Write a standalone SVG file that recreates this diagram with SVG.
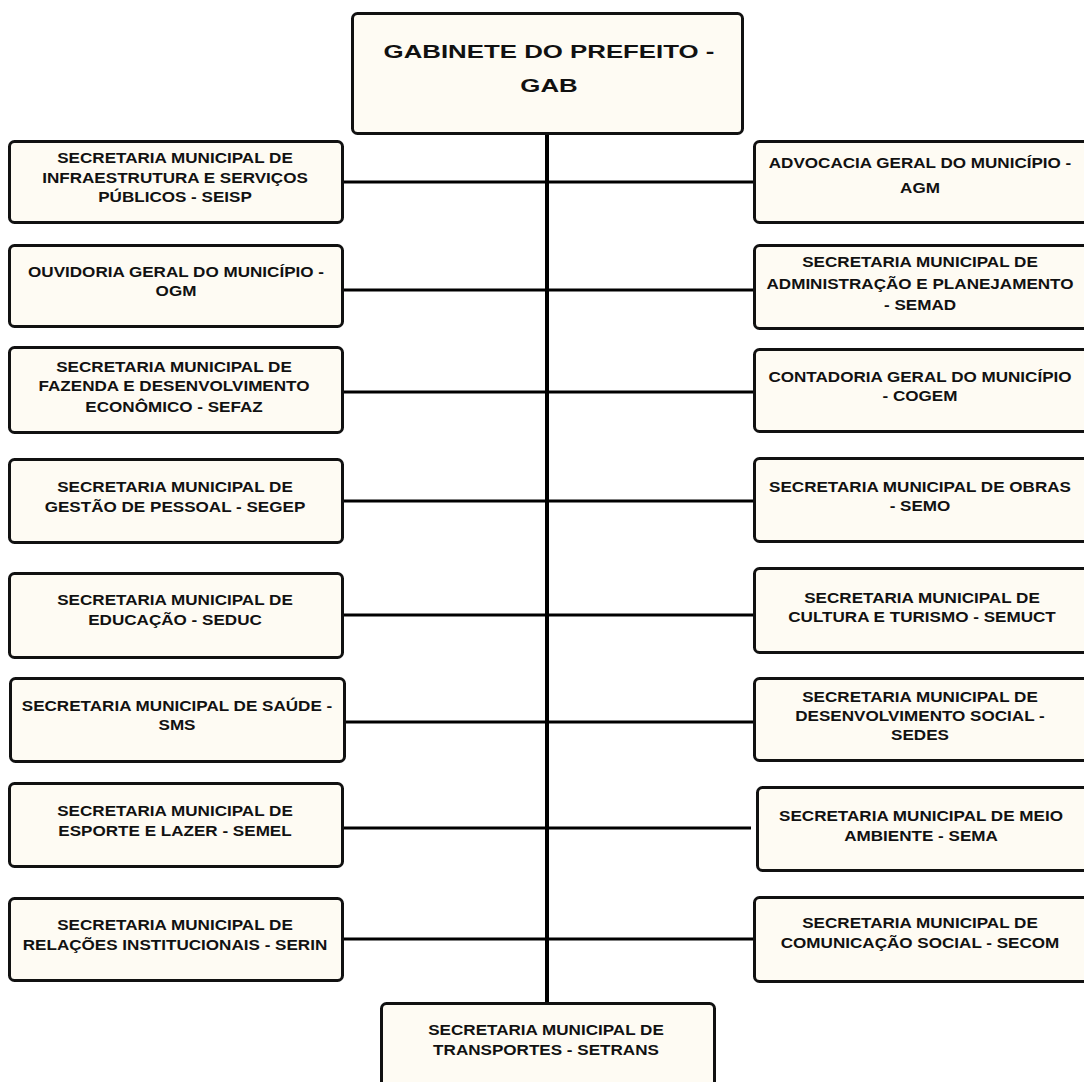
<svg xmlns="http://www.w3.org/2000/svg" width="1084" height="1082" viewBox="0 0 1084 1082">
<style>
.box{fill:#FEFBF3;stroke:#111;stroke-width:3}
.t{font-family:"Liberation Sans",Arial,sans-serif;font-weight:bold;font-size:14px;fill:#111;text-anchor:middle}
.title{font-family:"Liberation Sans",Arial,sans-serif;font-weight:bold;font-size:19px;fill:#111;text-anchor:middle}
.c{stroke:#000;stroke-width:3;fill:none}
.v{stroke:#000;stroke-width:4;fill:none}
</style>
<rect width="1084" height="1082" fill="#fff"/>
<g id="connectors">
<line class="v" x1="547" y1="134" x2="547" y2="1004"/>
<line class="c" x1="343" y1="182" x2="547" y2="182"/>
<line class="c" x1="547" y1="182" x2="755" y2="182"/>
<line class="c" x1="343" y1="290" x2="547" y2="290"/>
<line class="c" x1="547" y1="290" x2="755" y2="290"/>
<line class="c" x1="343" y1="392" x2="547" y2="392"/>
<line class="c" x1="547" y1="392" x2="755" y2="392"/>
<line class="c" x1="343" y1="501" x2="547" y2="501"/>
<line class="c" x1="547" y1="501" x2="755" y2="501"/>
<line class="c" x1="343" y1="615" x2="547" y2="615"/>
<line class="c" x1="547" y1="615" x2="755" y2="615"/>
<line class="c" x1="344" y1="722" x2="547" y2="722"/>
<line class="c" x1="547" y1="722" x2="755" y2="722"/>
<line class="c" x1="343" y1="828" x2="547" y2="828"/>
<line class="c" x1="547" y1="828" x2="751" y2="828"/>
<line class="c" x1="343" y1="939" x2="547" y2="939"/>
<line class="c" x1="547" y1="939" x2="755" y2="939"/>
</g>
<g id="gab">
<rect class="box" x="352.5" y="13.5" width="390" height="120" rx="5"/>
<text class="title" transform="translate(549,0) scale(1.36,1)"><tspan x="0" y="58">GABINETE DO PREFEITO -</tspan><tspan x="0" y="92">GAB</tspan></text>
</g>
<g id="seisp">
<rect class="box" x="9.5" y="141.5" width="333" height="81" rx="5"/>
<text class="t" transform="translate(175,0) scale(1.22,1)"><tspan x="0" y="163">SECRETARIA MUNICIPAL DE</tspan><tspan x="0" y="183">INFRAESTRUTURA E SERVIÇOS</tspan><tspan x="0" y="202">PÚBLICOS - SEISP</tspan></text>
</g>
<g id="ogm">
<rect class="box" x="9.5" y="245.5" width="333" height="81" rx="5"/>
<text class="t" transform="translate(176,0) scale(1.22,1)"><tspan x="0" y="277">OUVIDORIA GERAL DO MUNICÍPIO -</tspan><tspan x="0" y="296">OGM</tspan></text>
</g>
<g id="sefaz">
<rect class="box" x="9.5" y="347.5" width="333" height="85" rx="5"/>
<text class="t" transform="translate(174,0) scale(1.22,1)"><tspan x="0" y="372">SECRETARIA MUNICIPAL DE</tspan><tspan x="0" y="391">FAZENDA E DESENVOLVIMENTO</tspan><tspan x="0" y="412">ECONÔMICO - SEFAZ</tspan></text>
</g>
<g id="segep">
<rect class="box" x="9.5" y="459.5" width="333" height="83" rx="5"/>
<text class="t" transform="translate(175,0) scale(1.22,1)"><tspan x="0" y="492">SECRETARIA MUNICIPAL DE</tspan><tspan x="0" y="512.5">GESTÃO DE PESSOAL - SEGEP</tspan></text>
</g>
<g id="seduc">
<rect class="box" x="9.5" y="573.5" width="333" height="84" rx="5"/>
<text class="t" transform="translate(175,0) scale(1.22,1)"><tspan x="0" y="605">SECRETARIA MUNICIPAL DE</tspan><tspan x="0" y="625">EDUCAÇÃO - SEDUC</tspan></text>
</g>
<g id="sms">
<rect class="box" x="10.5" y="678.5" width="334" height="83" rx="5"/>
<text class="t" transform="translate(177,0) scale(1.22,1)"><tspan x="0" y="711">SECRETARIA MUNICIPAL DE SAÚDE -</tspan><tspan x="0" y="730">SMS</tspan></text>
</g>
<g id="semel">
<rect class="box" x="9.5" y="783.5" width="333" height="83" rx="5"/>
<text class="t" transform="translate(175,0) scale(1.22,1)"><tspan x="0" y="816.5">SECRETARIA MUNICIPAL DE</tspan><tspan x="0" y="836.5">ESPORTE E LAZER - SEMEL</tspan></text>
</g>
<g id="serin">
<rect class="box" x="9.5" y="898.5" width="333" height="82" rx="5"/>
<text class="t" transform="translate(175,0) scale(1.22,1)"><tspan x="0" y="930">SECRETARIA MUNICIPAL DE</tspan><tspan x="0" y="950">RELAÇÕES INSTITUCIONAIS - SERIN</tspan></text>
</g>
<g id="agm">
<rect class="box" x="754.5" y="141.5" width="340" height="81" rx="5"/>
<text class="t" transform="translate(920,0) scale(1.22,1)"><tspan x="0" y="168">ADVOCACIA GERAL DO MUNICÍPIO -</tspan><tspan x="0" y="193">AGM</tspan></text>
</g>
<g id="semad">
<rect class="box" x="754.5" y="245.5" width="340" height="83" rx="5"/>
<text class="t" transform="translate(920,0) scale(1.22,1)"><tspan x="0" y="267">SECRETARIA MUNICIPAL DE</tspan><tspan x="0" y="289">ADMINISTRAÇÃO E PLANEJAMENTO</tspan><tspan x="0" y="310">- SEMAD</tspan></text>
</g>
<g id="cogem">
<rect class="box" x="754.5" y="349.5" width="340" height="82" rx="5"/>
<text class="t" transform="translate(920,0) scale(1.22,1)"><tspan x="0" y="382.5">CONTADORIA GERAL DO MUNICÍPIO</tspan><tspan x="0" y="401.5">- COGEM</tspan></text>
</g>
<g id="semo">
<rect class="box" x="754.5" y="458.5" width="340" height="83" rx="5"/>
<text class="t" transform="translate(920,0) scale(1.22,1)"><tspan x="0" y="492.5">SECRETARIA MUNICIPAL DE OBRAS</tspan><tspan x="0" y="511.5">- SEMO</tspan></text>
</g>
<g id="semuct">
<rect class="box" x="754.5" y="568.5" width="340" height="84" rx="5"/>
<text class="t" transform="translate(922,0) scale(1.22,1)"><tspan x="0" y="603">SECRETARIA MUNICIPAL DE</tspan><tspan x="0" y="622.5">CULTURA E TURISMO - SEMUCT</tspan></text>
</g>
<g id="sedes">
<rect class="box" x="754.5" y="678.5" width="340" height="82" rx="5"/>
<text class="t" transform="translate(920,0) scale(1.22,1)"><tspan x="0" y="702.5">SECRETARIA MUNICIPAL DE</tspan><tspan x="0" y="721.5">DESENVOLVIMENTO SOCIAL -</tspan><tspan x="0" y="740">SEDES</tspan></text>
</g>
<g id="sema">
<rect class="box" x="757.5" y="787.5" width="340" height="83" rx="5"/>
<text class="t" transform="translate(921,0) scale(1.22,1)"><tspan x="0" y="821.5">SECRETARIA MUNICIPAL DE MEIO</tspan><tspan x="0" y="841.5">AMBIENTE - SEMA</tspan></text>
</g>
<g id="secom">
<rect class="box" x="754.5" y="897.5" width="340" height="84" rx="5"/>
<text class="t" transform="translate(920,0) scale(1.22,1)"><tspan x="0" y="928">SECRETARIA MUNICIPAL DE</tspan><tspan x="0" y="948">COMUNICAÇÃO SOCIAL - SECOM</tspan></text>
</g>
<g id="setrans">
<rect class="box" x="381.5" y="1003.5" width="333" height="90" rx="5"/>
<text class="t" transform="translate(546,0) scale(1.22,1)"><tspan x="0" y="1035">SECRETARIA MUNICIPAL DE</tspan><tspan x="0" y="1055">TRANSPORTES - SETRANS</tspan></text>
</g>
</svg>
